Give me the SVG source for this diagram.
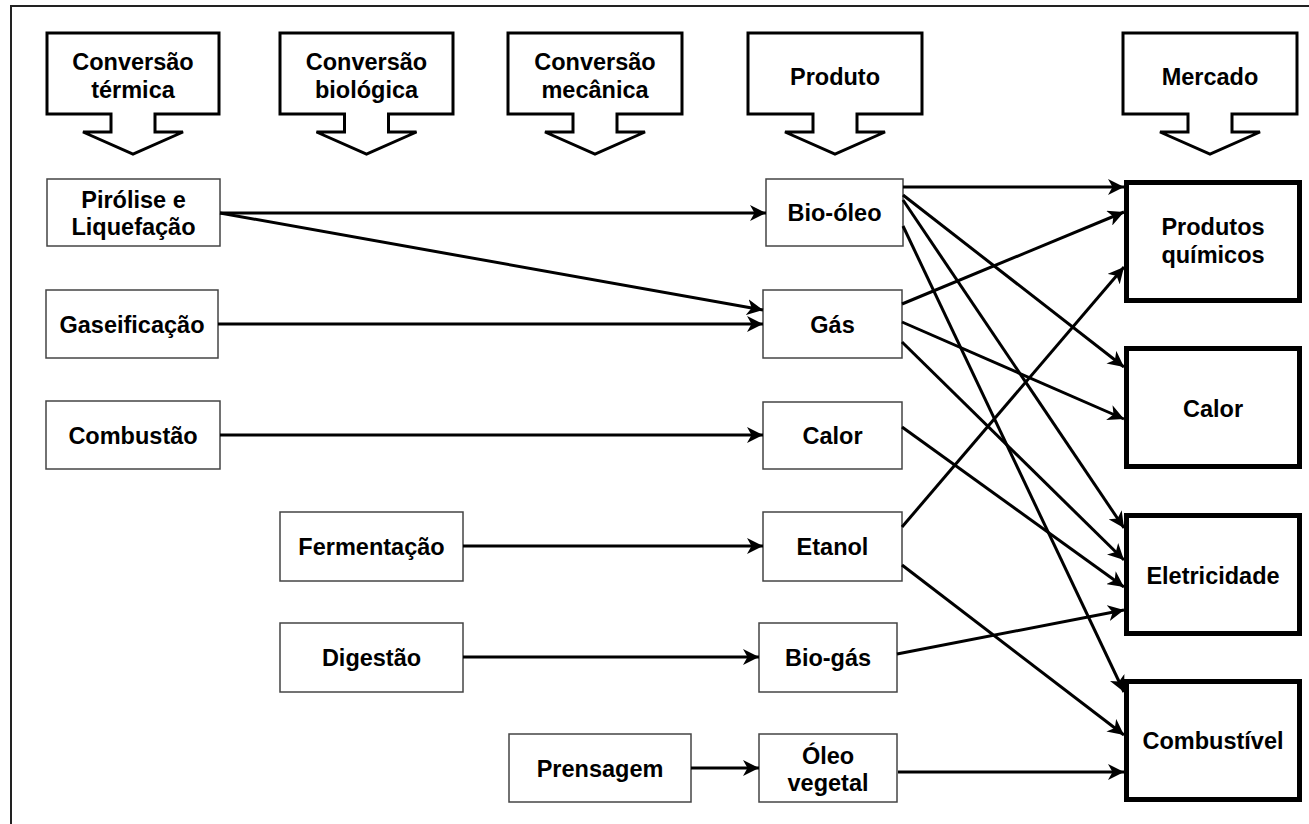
<svg xmlns="http://www.w3.org/2000/svg" width="1309" height="824" viewBox="0 0 1309 824">
  <style>
    text { font-family: "Liberation Sans", Arial, sans-serif; font-weight: bold; font-size: 23.5px; fill: #000; text-anchor: middle; }
    .hdr { fill: #fff; stroke: #000; stroke-width: 3; stroke-linejoin: miter; }
    .box { fill: #fff; stroke: #444; stroke-width: 1.5; }
    .mkt { fill: #fff; stroke: #000; stroke-width: 5; }
    .edge { fill: none; stroke: #000; stroke-width: 3; marker-end: url(#arr); }
  </style>
  <defs>
    <marker id="arr" markerUnits="userSpaceOnUse" viewBox="0 0 16 16" markerWidth="16" markerHeight="16" refX="16" refY="8" orient="auto">
      <path d="M0,0 L16,8 L0,16 L4.5,8 Z" fill="#000"/>
    </marker>
  </defs>

  <rect x="0" y="0" width="1309" height="824" fill="#fff"/>
  <!-- outer frame -->
  <rect x="11" y="6" width="1330" height="850" fill="none" stroke="#222" stroke-width="2"/>

  <!-- column headers (down-arrow callouts) -->
  <g id="hdr-termica">
    <path class="hdr" d="M47,33 H219 V114 H155 V132 H183 L133,154 L83,132 H111 V114 H47 Z"/>
    <text x="133" y="70">Conversão</text>
    <text x="133" y="98">térmica</text>
  </g>
  <g id="hdr-biologica">
    <path class="hdr" d="M280,33 H453 V114 H388.5 V132 H416.5 L366.5,154 L316.5,132 H344.5 V114 H280 Z"/>
    <text x="366.5" y="70">Conversão</text>
    <text x="366.5" y="98">biológica</text>
  </g>
  <g id="hdr-mecanica">
    <path class="hdr" d="M508,33 H682 V114 H617 V132 H645 L595,154 L545,132 H573 V114 H508 Z"/>
    <text x="595" y="70">Conversão</text>
    <text x="595" y="98">mecânica</text>
  </g>
  <g id="hdr-produto">
    <path class="hdr" d="M748,33 H922 V114 H857 V132 H885 L835,154 L785,132 H813 V114 H748 Z"/>
    <text x="835" y="85">Produto</text>
  </g>
  <g id="hdr-mercado">
    <path class="hdr" d="M1123,33 H1297 V114 H1232 V132 H1260 L1210,154 L1160,132 H1188 V114 H1123 Z"/>
    <text x="1210" y="85">Mercado</text>
  </g>

  <!-- conversion processes -->
  <g id="pirolise">
    <rect class="box" x="47" y="179" width="173" height="67"/>
    <text x="133.5" y="208">Pirólise e</text>
    <text x="133.5" y="235">Liquefação</text>
  </g>
  <g id="gaseificacao">
    <rect class="box" x="46" y="290" width="172" height="68"/>
    <text x="132" y="332.5">Gaseificação</text>
  </g>
  <g id="combustao">
    <rect class="box" x="46" y="401" width="174" height="68"/>
    <text x="133" y="443.5">Combustão</text>
  </g>
  <g id="fermentacao">
    <rect class="box" x="280" y="512" width="183" height="69"/>
    <text x="371.5" y="555">Fermentação</text>
  </g>
  <g id="digestao">
    <rect class="box" x="280" y="623" width="183" height="69"/>
    <text x="371.5" y="666">Digestão</text>
  </g>
  <g id="prensagem">
    <rect class="box" x="509" y="734" width="182" height="68"/>
    <text x="600" y="776.5">Prensagem</text>
  </g>

  <!-- products -->
  <g id="bio-oleo">
    <rect class="box" x="766" y="179" width="137" height="67"/>
    <text x="834.5" y="221">Bio-óleo</text>
  </g>
  <g id="gas">
    <rect class="box" x="763" y="290" width="139" height="68"/>
    <text x="832.5" y="332.5">Gás</text>
  </g>
  <g id="calor-produto">
    <rect class="box" x="763" y="402" width="139" height="67"/>
    <text x="832.5" y="444">Calor</text>
  </g>
  <g id="etanol">
    <rect class="box" x="763" y="512" width="139" height="69"/>
    <text x="832.5" y="555">Etanol</text>
  </g>
  <g id="bio-gas">
    <rect class="box" x="759" y="623" width="138" height="69"/>
    <text x="828" y="666">Bio-gás</text>
  </g>
  <g id="oleo-vegetal">
    <rect class="box" x="759" y="734" width="138" height="68"/>
    <text x="828" y="763.5">Óleo</text>
    <text x="828" y="790.5">vegetal</text>
  </g>

  <!-- markets -->
  <g id="produtos-quimicos">
    <rect class="mkt" x="1126.5" y="182.5" width="173" height="118"/>
    <text x="1213" y="235">Produtos</text>
    <text x="1213" y="263">químicos</text>
  </g>
  <g id="calor-mercado">
    <rect class="mkt" x="1126.5" y="348.5" width="173" height="118"/>
    <text x="1213" y="417">Calor</text>
  </g>
  <g id="eletricidade">
    <rect class="mkt" x="1126.5" y="515.5" width="173" height="118"/>
    <text x="1213" y="584">Eletricidade</text>
  </g>
  <g id="combustivel">
    <rect class="mkt" x="1126.5" y="681.5" width="173" height="118"/>
    <text x="1213" y="749">Combustível</text>
  </g>

  <!-- connectors -->
  <g id="connectors">
    <path class="edge" d="M220,213 L766,213"/>
    <path class="edge" d="M220,213 L763,310"/>
    <path class="edge" d="M218,324 L763,324"/>
    <path class="edge" d="M220,435 L763,435"/>
    <path class="edge" d="M463,546 L763,546"/>
    <path class="edge" d="M463,657 L759,657"/>
    <path class="edge" d="M691,768 L759,768"/>

    <path class="edge" d="M903,187 L1124,187"/>
    <path class="edge" d="M903,195 L1124,367"/>
    <path class="edge" d="M903,200 L1124,528"/>
    <path class="edge" d="M903,226 L1124,692"/>
    <path class="edge" d="M902,304 L1124,212"/>
    <path class="edge" d="M902,322 L1124,419"/>
    <path class="edge" d="M902,342 L1124,560"/>
    <path class="edge" d="M902,427 L1124,587"/>
    <path class="edge" d="M902,527 L1124,267"/>
    <path class="edge" d="M902,565 L1124,735"/>
    <path class="edge" d="M897,654 L1124,610"/>
    <path class="edge" d="M898,772 L1124,772"/>
  </g>
</svg>
